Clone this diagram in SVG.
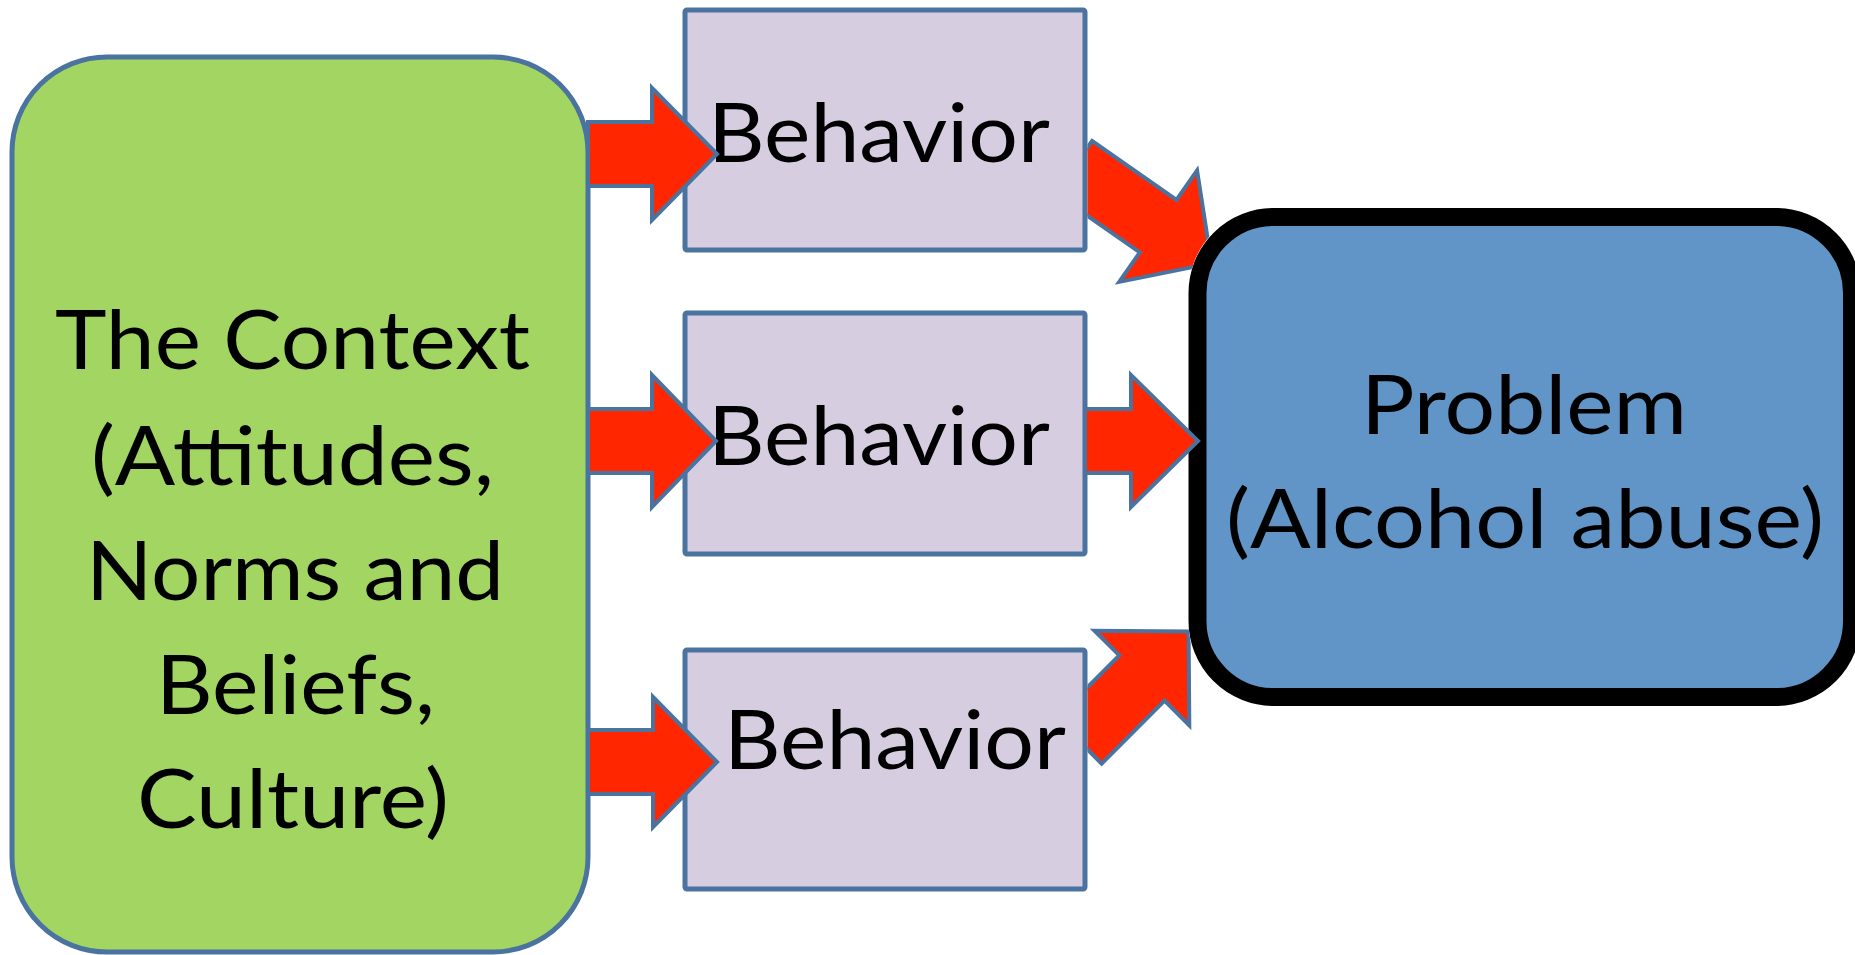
<svg xmlns="http://www.w3.org/2000/svg" width="1855" height="955" viewBox="0 0 1855 955">
<style>
.lbl{font-family:Lato,"Open Sans","Liberation Sans",sans-serif;font-size:81px;fill:#000}
.beh{fill:#d6cde1;stroke:#4a73a0;stroke-width:5;stroke-linejoin:round}
.arr{fill:#ff2600;stroke:#4a73a0;stroke-width:4;stroke-linejoin:miter}
</style>
<defs>
<clipPath id="diagClip" clipPathUnits="userSpaceOnUse">
<path clip-rule="evenodd" d="M0,0 H1855 V955 H0 Z M682.5,7.5 H1087.5 V252.5 H682.5 Z M682.5,647.5 H1087.5 V891.5 H682.5 Z M1272.5,208 H1777 A84,84 0 0 1 1861,292 V623 A84,84 0 0 1 1777,707 H1272.5 A84,84 0 0 1 1188.5,623 V292 A84,84 0 0 1 1272.5,208 Z"/>
</clipPath>
</defs>
<rect width="1855" height="955" fill="#fff"/>
<g id="context">
<rect x="12" y="57" width="576" height="895" rx="95" ry="95" fill="#a2d561" stroke="#4a73a0" stroke-width="5"/>
<text class="lbl" x="55" y="369" textLength="475" lengthAdjust="spacingAndGlyphs">The Context</text>
<text class="lbl" x="91" y="485" textLength="403" lengthAdjust="spacingAndGlyphs">(Attitudes,</text>
<text class="lbl" x="86" y="600" textLength="418" lengthAdjust="spacingAndGlyphs">Norms and</text>
<text class="lbl" x="156" y="714" textLength="279" lengthAdjust="spacingAndGlyphs">Beliefs,</text>
<text class="lbl" x="137" y="828" textLength="312" lengthAdjust="spacingAndGlyphs">Culture)</text>
</g>
<g id="behavior1">
<rect class="beh" x="685" y="10" width="400" height="240" rx="2"/>
<text class="lbl" x="708" y="162" textLength="342" lengthAdjust="spacingAndGlyphs">Behavior</text>
</g>
<g id="behavior2">
<rect class="beh" x="685" y="313" width="400" height="241" rx="2"/>
<text class="lbl" x="708" y="465" textLength="342" lengthAdjust="spacingAndGlyphs">Behavior</text>
</g>
<g id="behavior3">
<rect class="beh" x="685" y="650" width="400" height="239" rx="2"/>
<text class="lbl" x="724" y="769" textLength="342" lengthAdjust="spacingAndGlyphs">Behavior</text>
</g>
<g id="problem">
<rect x="1197.5" y="217" width="654.5" height="480" rx="76" ry="76" fill="#6195c8" stroke="#000" stroke-width="18"/>
<text class="lbl" x="1361" y="434" textLength="326" lengthAdjust="spacingAndGlyphs">Problem</text>
<text class="lbl" x="1226" y="548" textLength="598" lengthAdjust="spacingAndGlyphs">(Alcohol abuse)</text>
</g>
<g id="connectors">
<path class="arr" d="M588,122 H652 V88 L717,154 L652,220 V186 H588 Z"/>
<path class="arr" d="M588,409 H652 V375 L716,441 L652,507 V473 H588 Z"/>
<path class="arr" d="M588,730 H653 V697 L717,762 L653,827 V794 H588 Z"/>
<path class="arr" d="M1085,409 H1131 V375 L1198,441 L1131,507 V473 H1085 Z"/>
<g clip-path="url(#diagClip)">
<path class="arr" transform="translate(1073.7,167.2) rotate(34.9)" d="M0,-32 H103 V-68 L168,0 L103,68 V32 H0 Z"/>
</g>
<g clip-path="url(#diagClip)">
<path class="arr" transform="translate(1079,741) rotate(-45)" d="M0,-32 H89 V-67 L155,0 L89,67 V32 H0 Z"/>
</g>
</g>
</svg>
